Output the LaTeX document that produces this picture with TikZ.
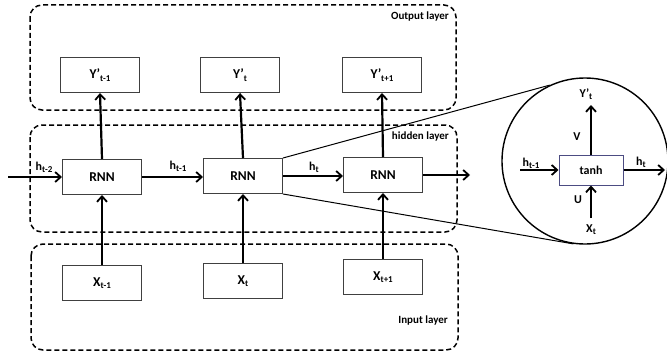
\documentclass[tikz,border=0pt]{standalone}
\usepackage{fontspec}
\setmainfont{Carlito}
\usetikzlibrary{arrows.meta,calc}
\newcommand{\sub}[1]{\raisebox{-0.35ex}{\fontsize{9}{10}\selectfont #1}}
\begin{document}
\begin{tikzpicture}[x=1pt,y=-1pt,
  layer/.style={draw=black,line width=1.5pt,dash pattern=on 5pt off 3pt,rounded corners=12pt},
  cell/.style={draw=black!75,line width=1pt,minimum width=79pt,minimum height=35pt,inner sep=0pt,font=\fontsize{13.5}{15}\selectfont\bfseries},
  lbl/.style={font=\fontsize{12}{14}\selectfont\bfseries,inner sep=0pt},
  laylbl/.style={font=\fontsize{11}{13}\selectfont\bfseries,inner sep=0pt,anchor=east},
  conn/.style={line width=2.2pt,-{Straight Barb[length=5.5pt,width=10pt,line width=1.8pt]}},
  thin/.style={line width=1pt}
]
\useasboundingbox (0,0) rectangle (667,353);
% layers
\draw[layer] (30,5) rectangle (456,110);
\draw[layer] (30,125) rectangle (457,232);
\draw[layer] (31,244) rectangle (458,350);
\node[laylbl] (lo) at (449,17) {Output layer};
\node[laylbl] (lh) at (449,137) {hidden layer};
\node[laylbl] (li) at (448,321) {Input layer};
% outputs
\node[cell] (Y1) at (100,75) {Y’\sub{t-1}};
\node[cell] (Y2) at (240,75) {Y’\sub{t}};
\node[cell] (Y3) at (382,75) {Y’\sub{t+1}};
% RNN
\node[cell] (R1) at (102,177) {RNN};
\node[cell] (R2) at (243,176) {RNN};
\node[cell] (R3) at (383,175) {RNN};
% inputs
\node[cell] (X1) at (102,283) {X\sub{t-1}};
\node[cell] (X2) at (243,281) {X\sub{t}};
\node[cell] (X3) at (383,277) {X\sub{t+1}};
% connectors
\coordinate (in) at (8,177);
\coordinate (out) at (470,175);
\draw[conn] (in) -- (R1.west);
\draw[conn] (R1.east) -- (R2.west |- R1.east);
\draw[conn] (R2.east) -- (R3.west |- R2.east);
\draw[conn] (R3.east) -- (out);
\foreach \i in {1,2,3}{
  \draw[conn] (X\i.north) -- (R\i.south);
  \draw[conn] (R\i.north) -- (Y\i.south);
}
\node[lbl] (h2) at (44,167) {h\sub{t-2}};
\node[lbl] (h1) at (178,166) {h\sub{t-1}};
\node[lbl] (h0) at (314,167) {h\sub{t}};
% zoom circle
\node[draw,circle,line width=1.4pt,minimum size=166pt,inner sep=0pt] (zc) at (585,161) {};
\draw[thin] (R2.north east) -- (zc.115);
\draw[thin] (R2.south east) -- (zc.262);
\node[draw=blue!30!black!70,line width=1pt,minimum width=64pt,minimum height=30pt,inner sep=0pt,font=\fontsize{12}{14}\selectfont\bfseries] (T) at (591,170) {tanh};
\coordinate (cin) at (520,170);
\coordinate (cout) at (665,170);
\coordinate (cup) at (591,105);
\coordinate (cdn) at (591,218);
\draw[conn] (cin) -- (T.west);
\draw[conn] (T.east) -- (cout);
\draw[conn] (T.north) -- (cup);
\draw[conn] (cdn) -- (T.south);
\node[lbl] (ch1) at (531,163) {h\sub{t-1}};
\node[lbl] (ch0) at (641,162) {h\sub{t}};
\node[lbl] (cv) at (577,137) {V};
\node[lbl] (cu) at (578,200) {U};
\node[lbl] (cy) at (586,94) {Y’\sub{t}};
\node[lbl] (cx) at (591,230) {X\sub{t}};
\end{tikzpicture}
\end{document}
